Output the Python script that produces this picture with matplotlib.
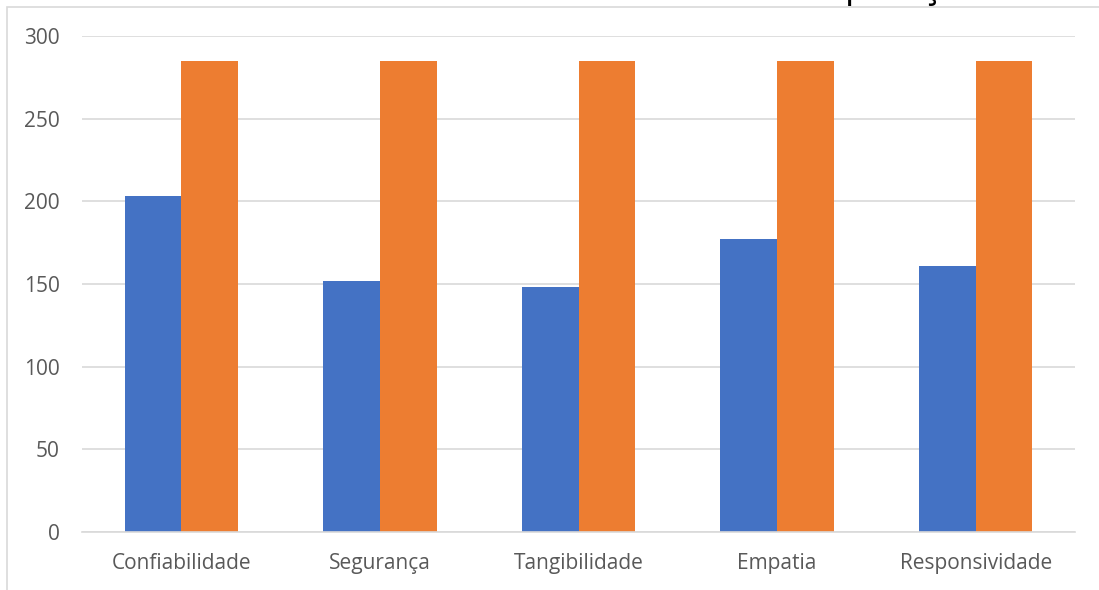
import matplotlib
matplotlib.use("Agg")
import matplotlib.pyplot as plt
from matplotlib.patches import Rectangle
import numpy as np

# dimension scores per category
categories = ["Confiabilidade", "Segurança", "Tangibilidade", "Empatia", "Responsividade"]
obtido = [203, 152, 148, 177, 161]
maximo = [285, 285, 285, 285, 285]
y_ticks = [0, 50, 100, 150, 200, 250, 300]

BLUE = "#4472C4"
ORANGE = "#ED7D31"
GRID = "#D9D9D9"
TEXT = "#595959"

plt.rcParams["font.family"] = ["Open Sans", "DejaVu Sans"]

fig = plt.figure(figsize=(10.99, 5.90), dpi=100)
fig.patch.set_facecolor("white")

# chart-area frame, running off the right and bottom edges
fig.patches.append(Rectangle((7 / 1099, -0.1), 1.2, 1 - 7 / 590 + 0.1,
                             transform=fig.transFigure, fill=False,
                             edgecolor=GRID, linewidth=1.2, zorder=0))

# title sitting above the visible area, only its descenders show
fig.text(768 / 1099, 1 + 2.6 / 590, "Comparação", fontsize=26,
         color="black", ha="left", va="baseline")

ax = fig.add_axes([82 / 1099, 1 - 532 / 590, (1075 - 82) / 1099, (532 - 36) / 590])

x = np.arange(len(categories))
w = 0.285
ax.bar(x - w / 2, obtido, width=w, color=BLUE, zorder=3)
ax.bar(x + w / 2, maximo, width=w, color=ORANGE, zorder=3)

ax.set_xlim(-0.5, len(categories) - 0.5)
ax.set_ylim(0, 300)
ax.set_yticks(y_ticks)
ax.set_xticks(x)
ax.set_xticklabels(categories)

ax.grid(axis="y", color=GRID, linewidth=1.2, zorder=0)
for side in ["top", "right", "left"]:
    ax.spines[side].set_visible(False)
ax.spines["bottom"].set_color(GRID)
ax.spines["bottom"].set_linewidth(1.2)
ax.spines["bottom"].set_zorder(4)

ax.tick_params(axis="both", length=0, labelsize=15, labelcolor=TEXT)
ax.tick_params(axis="y", pad=16)
ax.tick_params(axis="x", pad=15)

fig.savefig("out.png", dpi=100, facecolor="white")
